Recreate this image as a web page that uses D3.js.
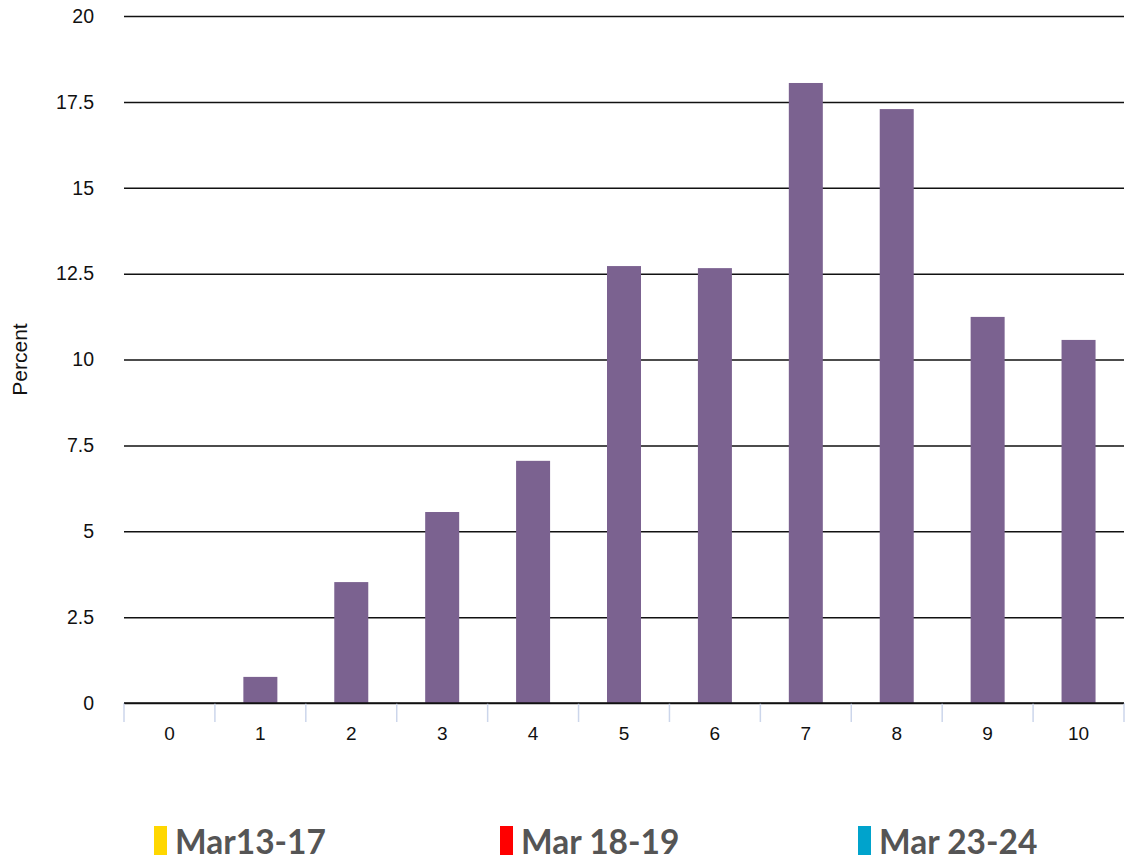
<!DOCTYPE html>
<html>
<head>
<meta charset="utf-8">
<script src="https://cdn.jsdelivr.net/npm/d3@7"></script>
<style>
  body { margin: 0; background: #fff; }
  .chart text { font-family: "Liberation Sans", Arial, sans-serif; }
  .legend text { font-family: Lato, sans-serif; font-weight: bold; }
</style>
</head>
<body>
<div class="chart"></div>
<script>
// data
const categories = ['0', '1', '2', '3', '4', '5', '6', '7', '8', '9', '10'];
const percents = [0, 0.76, 3.52, 5.56, 7.05, 12.72, 12.66, 18.05, 17.29, 11.24, 10.57];
const yTicks = [0, 2.5, 5, 7.5, 10, 12.5, 15, 17.5, 20];
const legendLabels = ['Mar13-17', 'Mar 18-19', 'Mar 23-24'];
const legendColors = ['#ffd700', '#ff0000', '#00a3cc'];

const width = 1127;
const height = 861;
const margin = { top: 16, right: 3, bottom: 158, left: 124 };
const innerWidth = width - margin.left - margin.right;
const innerHeight = height - margin.top - margin.bottom;

const svg = d3.select('.chart').append('svg')
    .attr('width', width)
    .attr('height', height);

const g = svg.append('g')
    .attr('transform', `translate(${margin.left},${margin.top})`);

// scales
const xScale = d3.scaleBand().domain(categories).range([0, innerWidth]);
const yScale = d3.scaleLinear().domain([0, 20]).range([innerHeight, 0]);
const barWidth = 34;

// grid lines + y labels
const yAxis = d3.axisLeft(yScale)
    .tickValues(yTicks)
    .tickFormat(d => d)
    .tickSize(-innerWidth)
    .tickPadding(30);

const yAxisG = g.append('g').call(yAxis);
yAxisG.select('.domain').remove();
yAxisG.selectAll('.tick line')
    .attr('stroke', '#111')
    .attr('stroke-width', 1.5);
yAxisG.selectAll('.tick text')
    .attr('font-size', 19.5)
    .attr('fill', '#111');

// y label
g.append('text')
    .attr('transform', `translate(${-97},${innerHeight / 2}) rotate(-90)`)
    .attr('text-anchor', 'middle')
    .attr('font-size', 21)
    .attr('fill', '#111')
    .text('Percent');

// bars
g.selectAll('rect.bar')
    .data(percents)
    .enter()
    .append('rect')
    .attr('class', 'bar')
    .attr('x', (d, i) => xScale(categories[i]) + xScale.bandwidth() / 2 - barWidth / 2)
    .attr('y', d => yScale(d))
    .attr('width', barWidth)
    .attr('height', d => innerHeight - yScale(d))
    .attr('fill', '#7b6290');

// x axis
const xAxisG = g.append('g')
    .attr('transform', `translate(0,${innerHeight})`);

xAxisG.selectAll('line.sep')
    .data(categories.concat(['end']))
    .enter()
    .append('line')
    .attr('class', 'sep')
    .attr('x1', (d, i) => i * xScale.bandwidth())
    .attr('x2', (d, i) => i * xScale.bandwidth())
    .attr('y1', 0)
    .attr('y2', 19)
    .attr('stroke', '#ccd6eb')
    .attr('stroke-width', 1.5);

xAxisG.append('line')
    .attr('x1', 0)
    .attr('x2', innerWidth)
    .attr('stroke', '#111')
    .attr('stroke-width', 1.5);

xAxisG.selectAll('text')
    .data(categories)
    .enter()
    .append('text')
    .attr('x', d => xScale(d) + xScale.bandwidth() / 2)
    .attr('y', 37)
    .attr('text-anchor', 'middle')
    .attr('font-size', 19)
    .attr('fill', '#111')
    .text(d => d);

// legend
const legendX = [154, 500, 858];
const legend = svg.append('g').attr('class', 'legend');
const items = legend.selectAll('g')
    .data(legendLabels)
    .enter()
    .append('g')
    .attr('transform', (d, i) => `translate(${legendX[i]},826)`);

items.append('rect')
    .attr('width', 13)
    .attr('height', 29)
    .attr('fill', (d, i) => legendColors[i]);

items.append('text')
    .attr('x', 21)
    .attr('y', 28)
    .attr('font-size', 33.5)
    .attr('fill', '#555')
    .text(d => d);
</script>
</body>
</html>
